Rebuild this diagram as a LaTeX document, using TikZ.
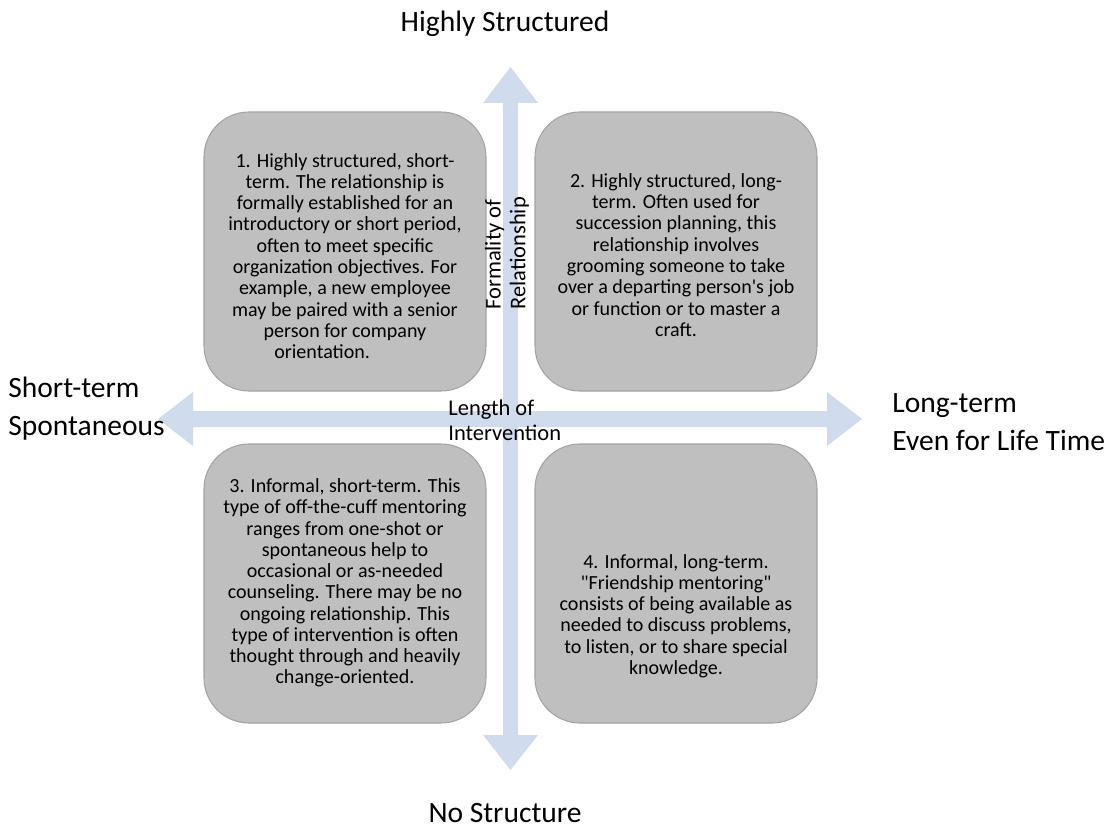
\documentclass[tikz,border=0pt]{standalone}
\usepackage{fontspec}
\setmainfont{Carlito}[Ligatures=TeXOff]
\usepackage{xcolor}
\usepackage{tikz}

\definecolor{axisblue}{HTML}{D0DBEE}
\definecolor{boxgray}{HTML}{BFBFBF}
\definecolor{boxedge}{HTML}{A3A3A3}

\begin{document}
\begin{tikzpicture}[x=0.02cm, y=-0.02cm,
  quad/.style={draw=boxedge, fill=boxgray, rounded corners=0.9cm, line width=0.6pt},
  quadtext/.style={align=center, inner sep=0pt, font=\fontsize{11.4}{12.1}\selectfont},
  pole/.style={align=left, inner sep=0pt, font=\fontsize{16.8}{21.6}\selectfont},
  axisname/.style={align=left, inner sep=0pt, font=\fontsize{12.8}{14.2}\selectfont}]
  \useasboundingbox (0,0) rectangle (1115,827);

  % the two axes (double-headed, same colour)
  \fill[axisblue] (503,103) -- (483,103) -- (510.5,67) -- (538,103) -- (518,103)
    -- (518,735) -- (538,735) -- (510.5,770) -- (483,735) -- (503,735) -- cycle;
  \fill[axisblue] (193,411) -- (193,392) -- (158,419) -- (193,446) -- (193,427)
    -- (827,427) -- (827,446) -- (862,419) -- (827,392) -- (827,411) -- cycle;

  % four quadrants
  \draw[quad] (204,112) rectangle (486,391);
  \draw[quad] (535,112) rectangle (817,391);
  \draw[quad] (204,444) rectangle (486,723);
  \draw[quad] (535,444) rectangle (817,723);

  \node[quadtext] (q1) at (345,256) {1. Highly structured, short-\\term. The relationship is\\formally established for an\\introductory or short period,\\often to meet specific\\organization objectives. For\\example, a new employee\\may be paired with a senior\\person for company\\orientation.\hspace*{26pt}};
  \node[quadtext] (q2) at (676,255) {2. Highly structured, long-\\term. Often used for\\succession planning, this\\relationship involves\\grooming someone to take\\over a departing person's job\\or function or to master a\\craft.};
  \node[quadtext] (q3) at (345,583) {3. Informal, short-term. This\\type of off-the-cuff mentoring\\ranges from one-shot or\\spontaneous help to\\occasional or as-needed\\counseling. There may be no\\ongoing relationship. This\\type of intervention is often\\thought through and heavily\\change-oriented.};
  \node[quadtext] (q4) at (676,616) {4. Informal, long-term.\\"Friendship mentoring"\\consists of being available as\\needed to discuss problems,\\to listen, or to share special\\knowledge.};

  % pole labels
  \node[pole] (hs) at (505,24) {Highly Structured};
  \node[pole] (ns) at (505,813) {No Structure};
  \node[pole, anchor=west] (st) at (8,409) {Short-term\\Spontaneous};
  \node[pole, anchor=west] (lt) at (892,422) {Long-term\\Even for Life Time};

  % axis names
  \node[axisname, anchor=west] (len) at (448,420) {Length of\\Intervention};
  \node[axisname, anchor=west, rotate=90] (form) at (507,310) {Formality of\\Relationship};
\end{tikzpicture}
\end{document}
